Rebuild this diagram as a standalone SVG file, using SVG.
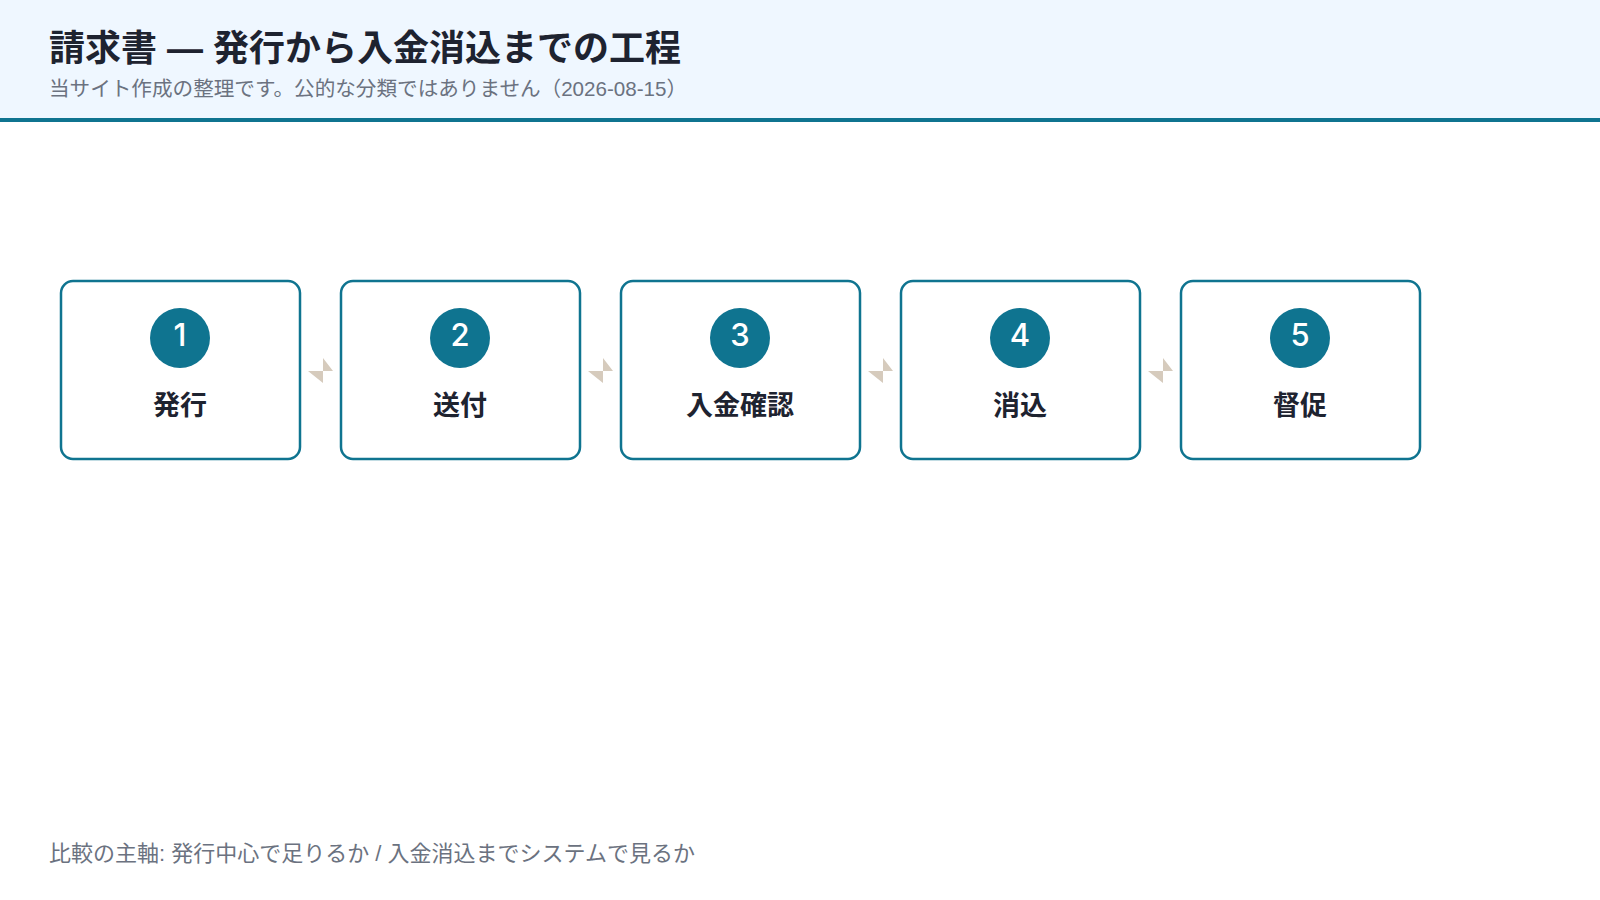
<svg xmlns="http://www.w3.org/2000/svg" width="1600" height="900" viewBox="0 0 1600 900">
<style>
.title{font-family:"Liberation Sans","Noto Sans CJK JP",sans-serif;font-size:36px;font-weight:700;fill:#1e2330}
.sub{font-family:"Liberation Sans","Noto Sans CJK JP",sans-serif;font-size:20.6px;fill:#6b7280}
.foot{font-family:"Liberation Sans","Noto Sans CJK JP",sans-serif;font-size:22px;fill:#6b7280}
.box{fill:#ffffff;stroke:#0f7490;stroke-width:2.5}
.badge{fill:#0f7490}
.num{font-family:Inter,"Liberation Sans",sans-serif;font-size:31px;font-weight:500;fill:#ffffff;text-anchor:middle}
.lbl{font-family:"Noto Sans CJK JP","Noto Sans",sans-serif;font-size:27px;font-weight:700;fill:#1e2330;text-anchor:middle}
.conn{fill:#d6cbbd}
</style>
<rect x="0" y="0" width="1600" height="119" fill="#eff7ff"/>
<rect x="0" y="118" width="1600" height="4" fill="#0f7490"/>
<text class="title" x="49" y="61">請求書 — 発行から入金消込までの工程</text>
<text class="sub" x="49" y="96">当サイト作成の整理です。公的な分類ではありません（2026-08-15）</text>

<g id="connectors">
<path class="conn" d="M323,358 L333,371 L323,371 Z M308,371 L323,371 L323,383 Z"/>
<path class="conn" d="M603,358 L613,371 L603,371 Z M588,371 L603,371 L603,383 Z"/>
<path class="conn" d="M883,358 L893,371 L883,371 Z M868,371 L883,371 L883,383 Z"/>
<path class="conn" d="M1163,358 L1173,371 L1163,371 Z M1148,371 L1163,371 L1163,383 Z"/>
</g>

<g id="node1">
<rect class="box" x="61" y="281" width="239" height="178" rx="12"/>
<circle class="badge" cx="180" cy="338" r="30"/>
<text class="num" x="180" y="346">1</text>
<text class="lbl" x="180" y="415">発行</text>
</g>
<g id="node2">
<rect class="box" x="341" y="281" width="239" height="178" rx="12"/>
<circle class="badge" cx="460" cy="338" r="30"/>
<text class="num" x="460" y="346">2</text>
<text class="lbl" x="460" y="415">送付</text>
</g>
<g id="node3">
<rect class="box" x="621" y="281" width="239" height="178" rx="12"/>
<circle class="badge" cx="740" cy="338" r="30"/>
<text class="num" x="740" y="346">3</text>
<text class="lbl" x="740" y="415">入金確認</text>
</g>
<g id="node4">
<rect class="box" x="901" y="281" width="239" height="178" rx="12"/>
<circle class="badge" cx="1020" cy="338" r="30"/>
<text class="num" x="1020" y="346">4</text>
<text class="lbl" x="1020" y="415">消込</text>
</g>
<g id="node5">
<rect class="box" x="1181" y="281" width="239" height="178" rx="12"/>
<circle class="badge" cx="1300" cy="338" r="30"/>
<text class="num" x="1300" y="346">5</text>
<text class="lbl" x="1300" y="415">督促</text>
</g>

<text class="foot" x="49" y="861">比較の主軸: 発行中心で足りるか / 入金消込までシステムで見るか</text>
</svg>
